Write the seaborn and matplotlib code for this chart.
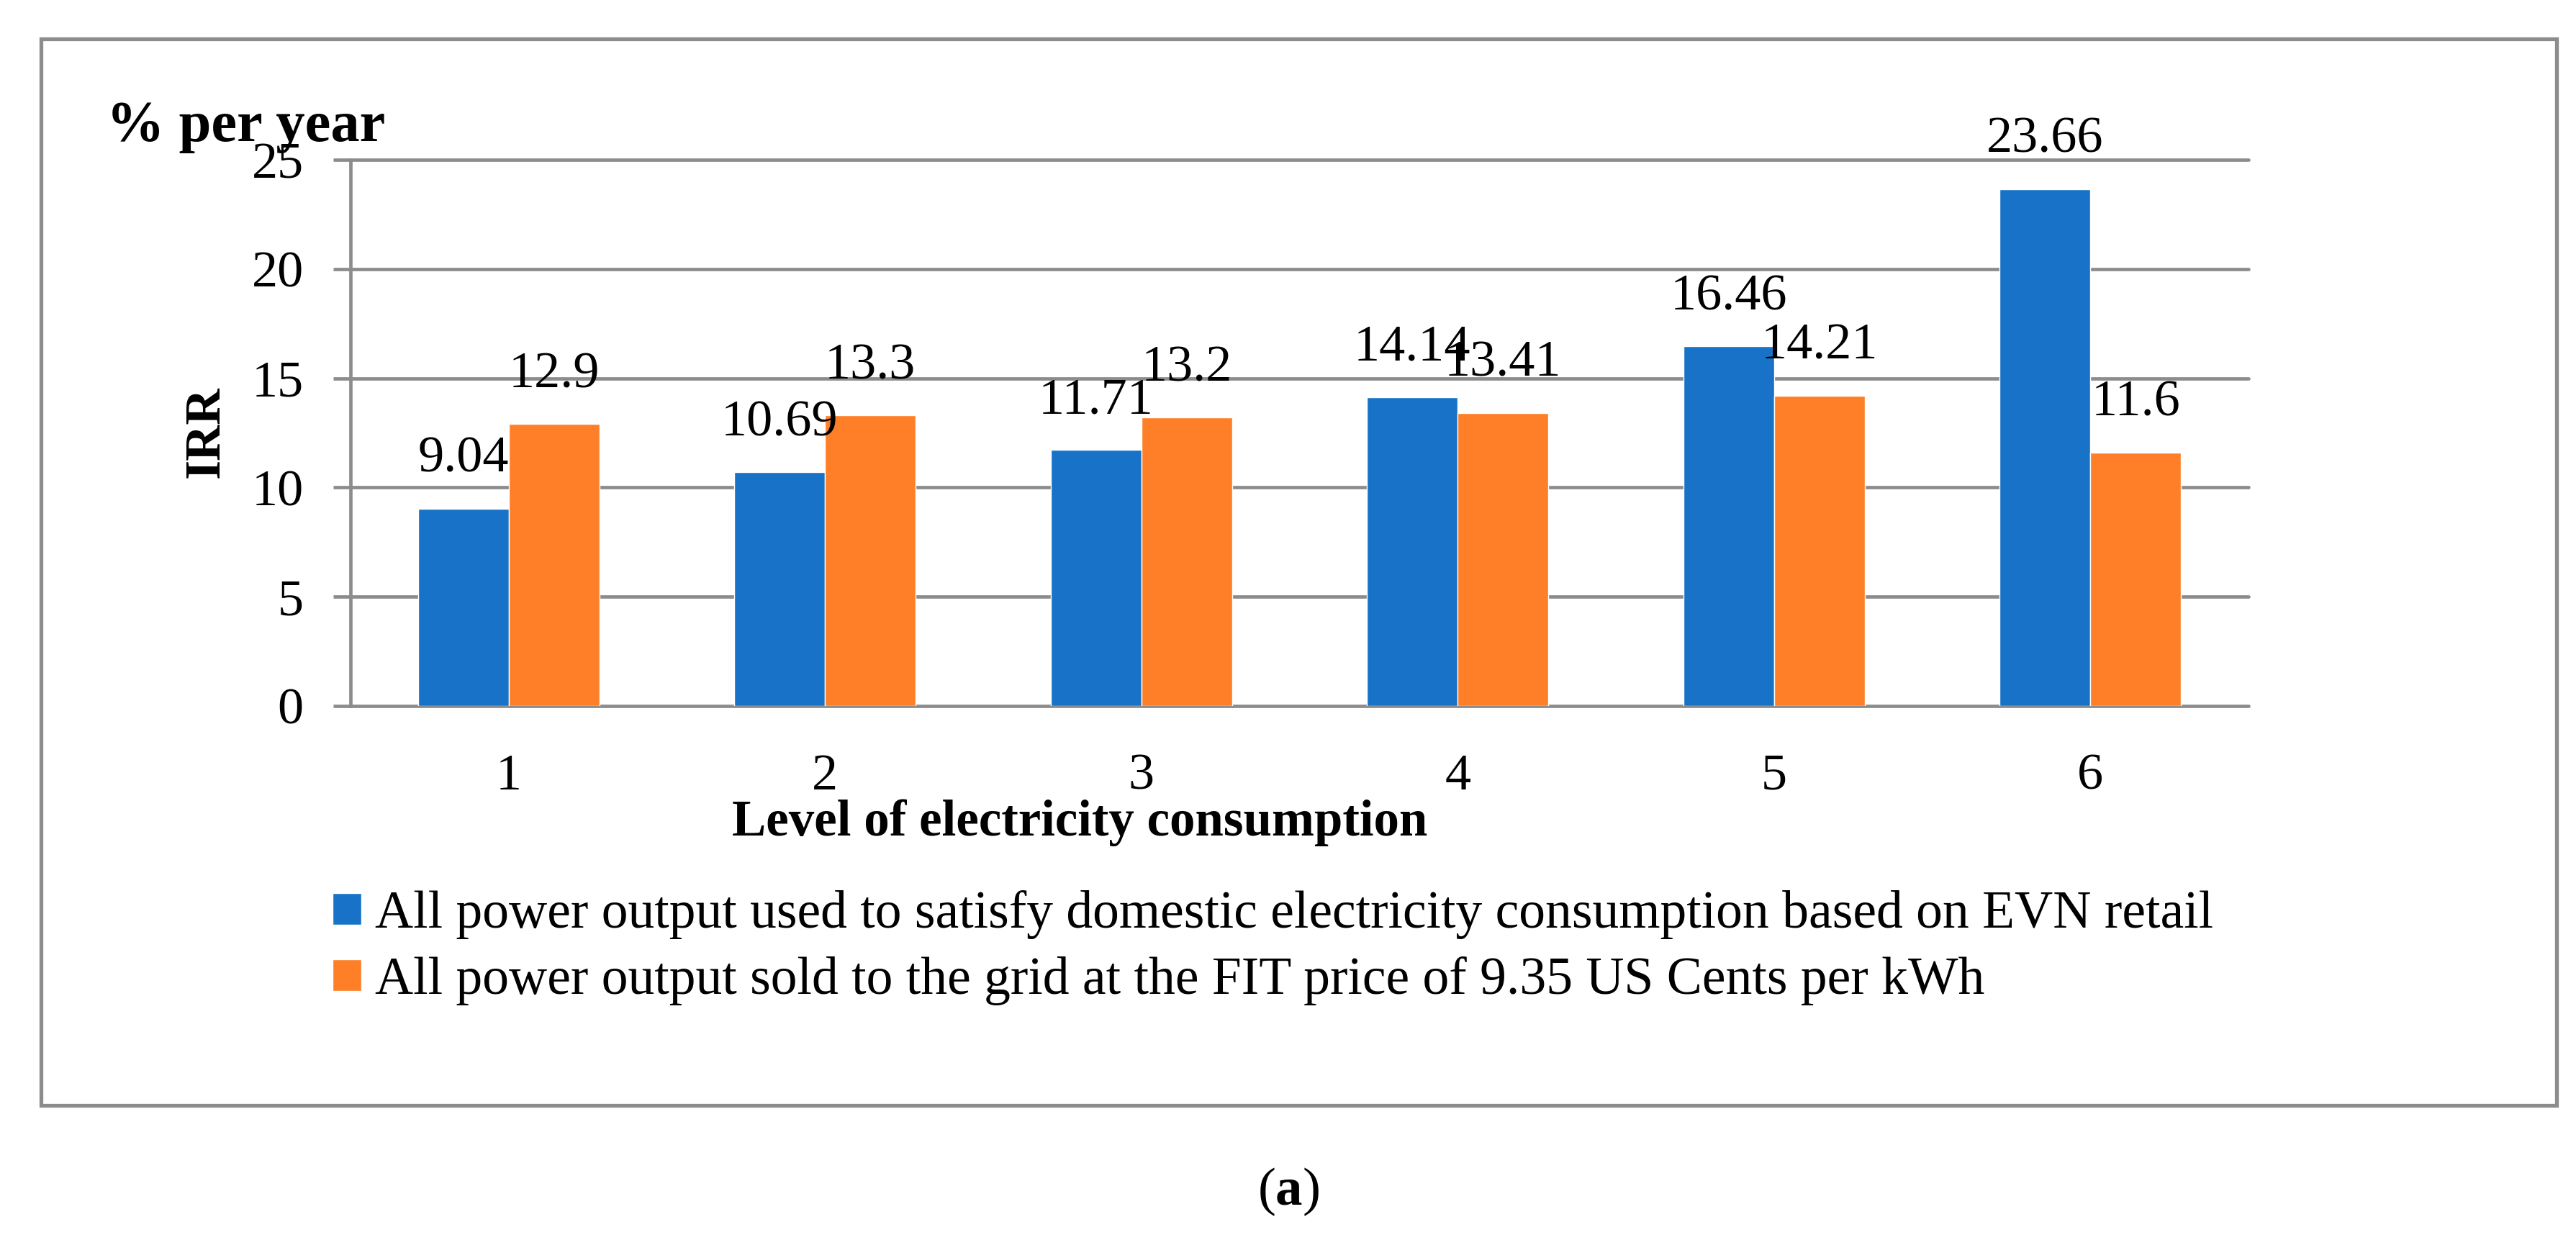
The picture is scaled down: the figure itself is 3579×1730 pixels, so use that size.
import pandas as pd
import matplotlib.pyplot as plt
import seaborn as sns
from matplotlib.patches import Rectangle

# values
levels = ['1', '2', '3', '4', '5', '6']
irr_domestic = [9.04, 10.69, 11.71, 14.14, 16.46, 23.66]
irr_fit = [12.9, 13.3, 13.2, 13.41, 14.21, 11.6]
domestic_label = 'All power output used to satisfy domestic electricity consumption based on EVN retail'
fit_label = 'All power output sold to the grid at the FIT price of 9.35 US Cents per kWh'
y_ticks = [0, 5, 10, 15, 20, 25]

df = pd.DataFrame({
    'level': levels * 2,
    'irr': irr_domestic + irr_fit,
    'scenario': [domestic_label] * len(levels) + [fit_label] * len(levels),
})

blue = '#1873C8'
orange = '#FE7F27'
grey = '#8C8C8C'

sns.set_style('white')
plt.rcParams['font.family'] = ['Liberation Serif', 'DejaVu Serif']
plt.rcParams['mathtext.fontset'] = 'custom'
plt.rcParams['mathtext.rm'] = 'Liberation Serif'
plt.rcParams['mathtext.bf'] = 'Liberation Serif:bold'
plt.rcParams['text.color'] = 'black'
plt.rcParams['axes.labelcolor'] = 'black'
plt.rcParams['xtick.labelcolor'] = 'black'
plt.rcParams['ytick.labelcolor'] = 'black'

W, H = 3579, 1730
fig = plt.figure(figsize=(W / 100, H / 100), dpi=100)
ax = fig.add_axes([487 / W, 1 - 981 / H, (3124 - 487) / W, (981 - 222) / H])

sns.barplot(data=df, x='level', y='irr', hue='scenario', order=levels,
            palette=[blue, orange], saturation=1, width=0.573, ax=ax)

for cont in ax.containers:
    ax.bar_label(cont, fmt='%g', padding=26, fontsize=52, color='black')

ax.set_ylim(0, 25)
ax.set_yticks(y_ticks)
ax.yaxis.grid(True, color=grey, linewidth=3.4)
for gl in ax.get_ygridlines():
    gl.set_clip_on(False)
ax.set_axisbelow(True)
for side in ['top', 'right', 'bottom']:
    ax.spines[side].set_visible(False)
ax.spines['left'].set_color(grey)
ax.spines['left'].set_linewidth(3.4)
ax.tick_params(axis='y', which='major', left=True, length=17, width=3.4,
               color=grey, labelcolor='black', pad=30, labelsize=52)
ax.tick_params(axis='x', which='major', bottom=False, labelcolor='black',
               pad=44, labelsize=52)
ax.set_xlabel('')
ax.set_ylabel('')

# axis titles placed like the original
fig.text(148 / W, 1 - 196 / H, '% per year', fontsize=58, fontweight='bold',
         ha='left', va='baseline')
fig.text(287 / W, 1 - 600 / H, 'IRR', fontsize=50, fontweight='bold',
         rotation=90, ha='center', va='center')
fig.text(1500 / W, 1 - 1161 / H, 'Level of electricity consumption', fontsize=51,
         fontweight='bold', ha='center', va='baseline')

handles, labels = ax.get_legend_handles_labels()
leg = ax.legend(handles, labels, loc='center left', bbox_to_anchor=(462 / W, 1 - 1317 / H),
                bbox_transform=fig.transFigure, frameon=False, fontsize=53,
                handlelength=0.55, handleheight=0.55, handletextpad=0.25,
                labelspacing=0.33, borderpad=0, borderaxespad=0)
for t in leg.get_texts():
    t.set_color('black')

# chart frame
fig.patches.append(Rectangle((57.5 / W, 1 - 1536 / H), (3552 - 57.5) / W, (1536 - 53.5) / H,
                             transform=fig.transFigure, fill=False, edgecolor=grey,
                             linewidth=3.8))

fig.text(1790 / W, 1 - 1656 / H, r'($\mathbf{a}$)', fontsize=54, ha='center', va='center')

plt.savefig('out.png', dpi=100)
